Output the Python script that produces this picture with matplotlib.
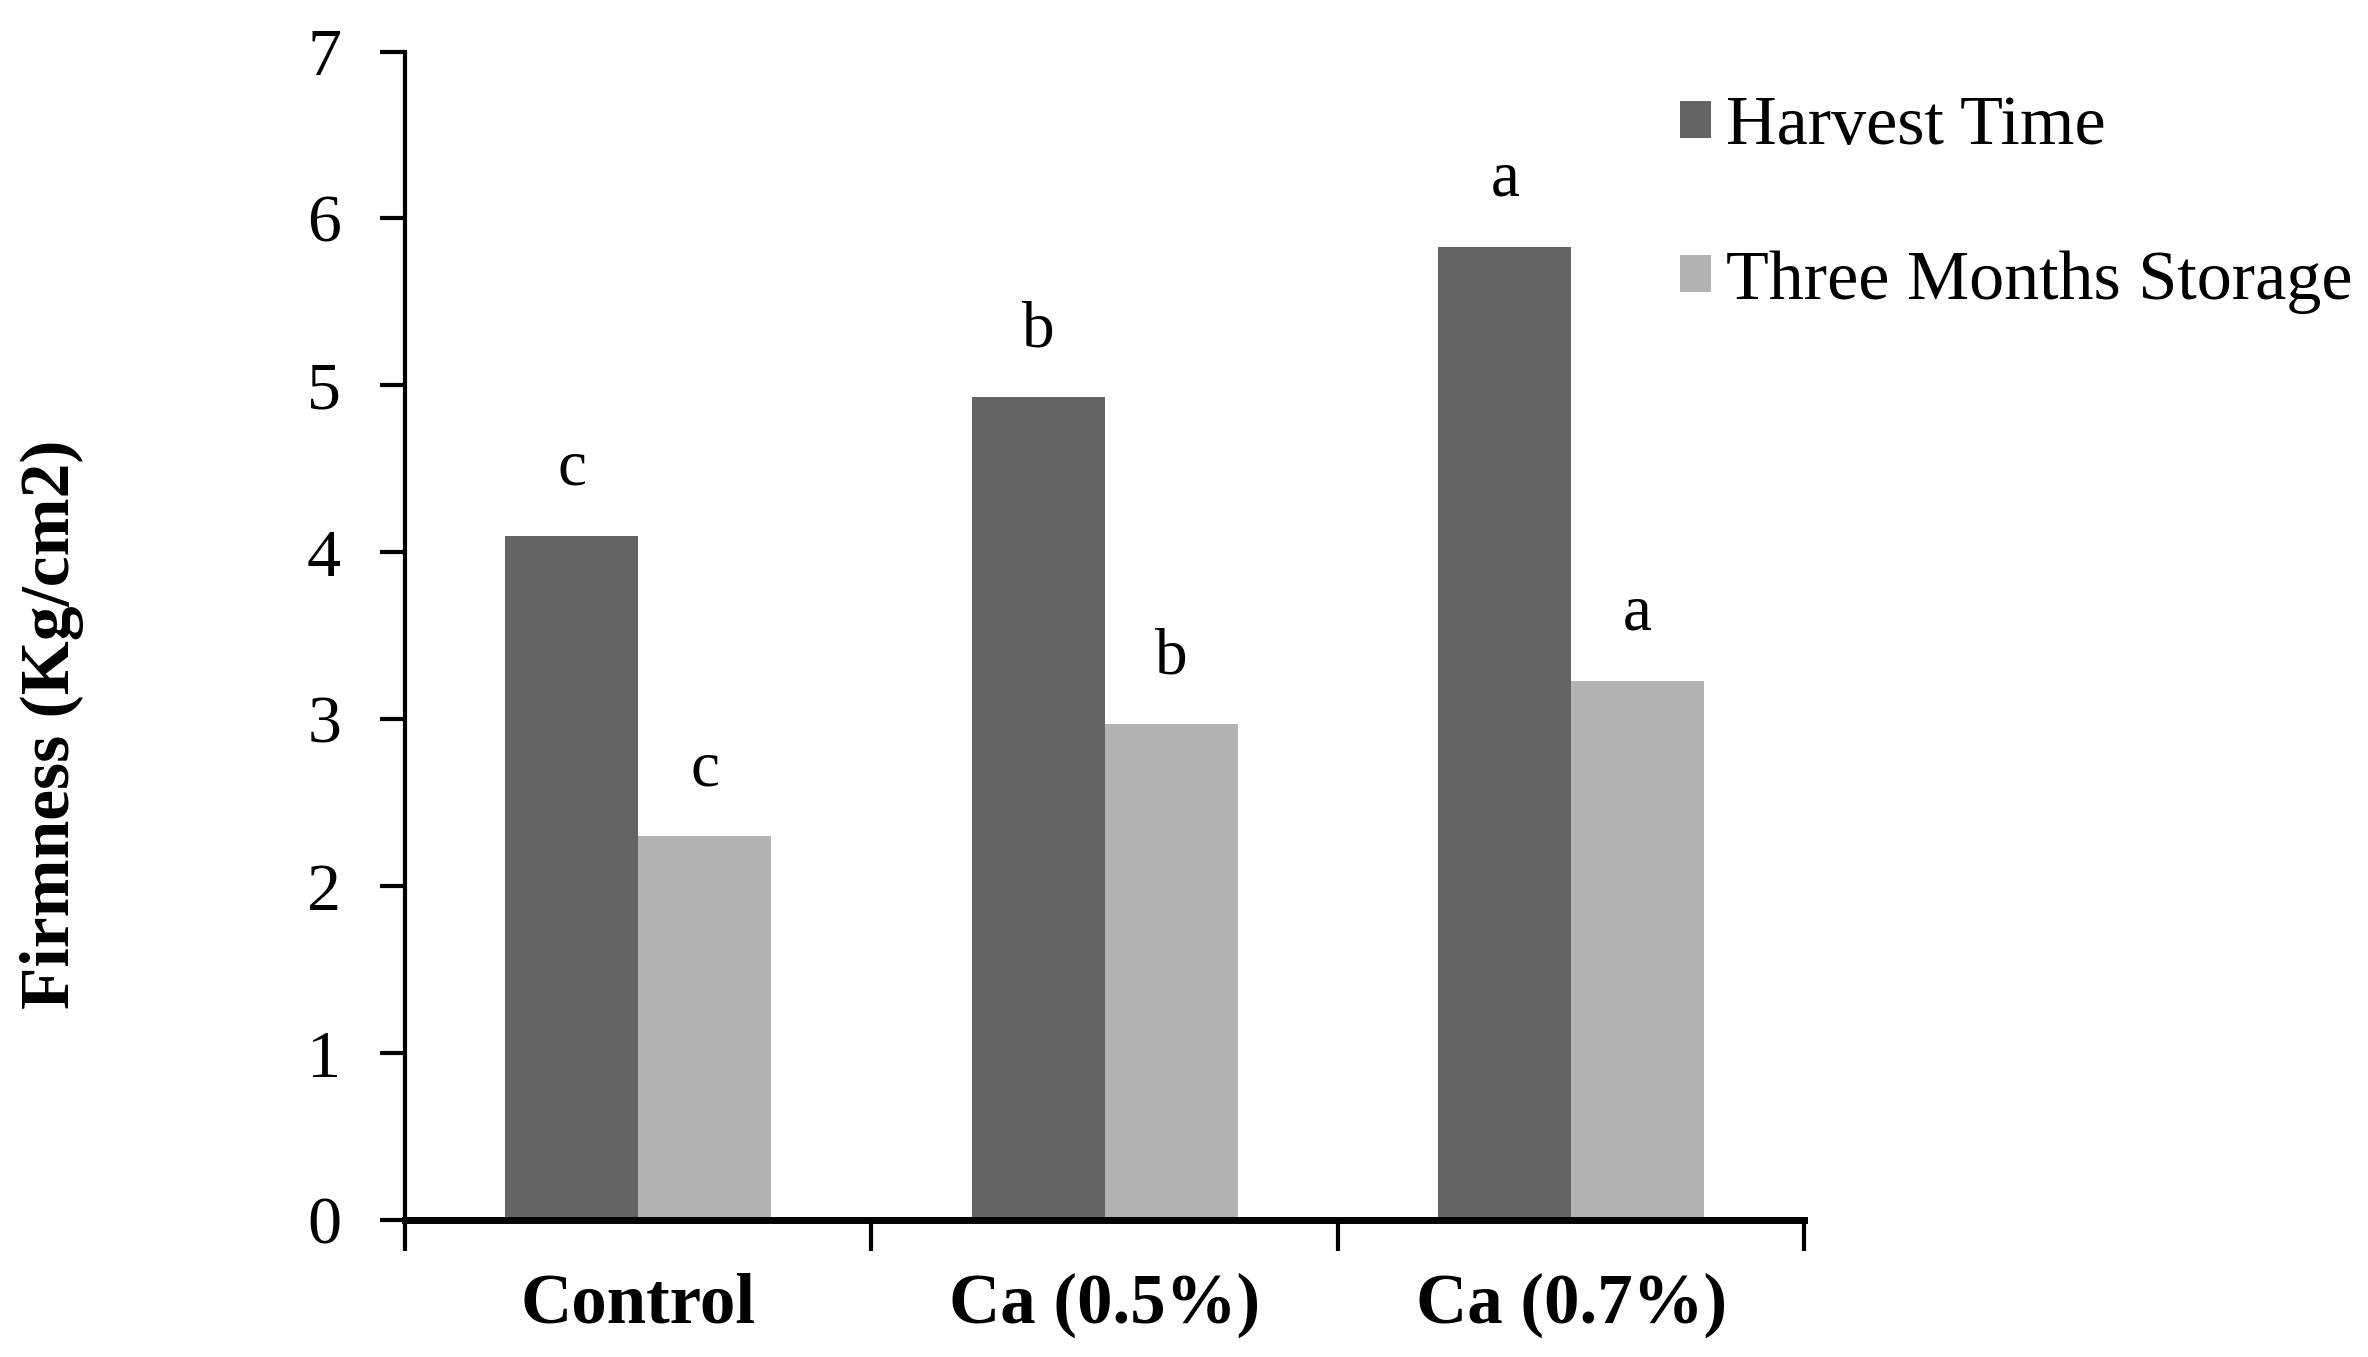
import numpy as np
import matplotlib.pyplot as plt
from matplotlib.ticker import FixedLocator, NullFormatter

plt.rcParams['font.family'] = ['Liberation Serif', 'DejaVu Serif']

categories = ['Control', 'Ca (0.5%)', 'Ca (0.7%)']
harvest = [4.10, 4.93, 5.83]
storage = [2.30, 2.97, 3.23]
harvest_letters = ['c', 'b', 'a']
storage_letters = ['c', 'b', 'a']
series_names = ['Harvest Time', 'Three Months Storage']

fig = plt.figure(figsize=(23.68, 13.57), dpi=100)
ax = fig.add_axes([0.171, 0.101, 0.591, 0.861])

x = np.arange(len(categories))
w = 0.285
b1 = ax.bar(x - w / 2, harvest, w, color='#646464', label=series_names[0])
b2 = ax.bar(x + w / 2, storage, w, color='#b3b3b3', label=series_names[1])

for xi, v, t in zip(x - w / 2, harvest, harvest_letters):
    ax.text(xi, v + 0.4, t, ha='center', va='center', fontsize=47)
for xi, v, t in zip(x + w / 2, storage, storage_letters):
    ax.text(xi, v + 0.4, t, ha='center', va='center', fontsize=47)

ax.set_xlim(-0.5, len(categories) - 0.5)
ax.set_ylim(0, 7)
ax.set_yticks(range(8))
ax.tick_params(axis='y', labelsize=49, length=18, width=3, pad=28)

# major ticks at the category borders, labels at the centres
ax.xaxis.set_major_locator(FixedLocator(np.arange(len(categories) + 1) - 0.5))
ax.xaxis.set_major_formatter(NullFormatter())
ax.xaxis.set_minor_locator(FixedLocator(x))
ax.set_xticklabels(categories, minor=True)
ax.tick_params(axis='x', which='major', length=22, width=3)
ax.tick_params(axis='x', which='minor', length=0, pad=38, labelsize=51)
for lab in ax.get_xticklabels(minor=True):
    lab.set_fontweight('bold')

for s in ['top', 'right']:
    ax.spines[s].set_visible(False)
ax.spines['left'].set_linewidth(3)
ax.spines['bottom'].set_linewidth(5)

fig.text(0.022, 0.466, 'Firmness (Kg/cm2)', rotation=90, ha='center', va='center',
         fontsize=50, fontweight='bold')

fig.legend(handles=[b1, b2], loc='upper left', bbox_to_anchor=(0.683, 0.976),
           frameon=False, fontsize=50.5, handlelength=0.43, handleheight=0.43,
           handletextpad=0.22, labelspacing=1.3)

fig.savefig('out.png', dpi=100)
